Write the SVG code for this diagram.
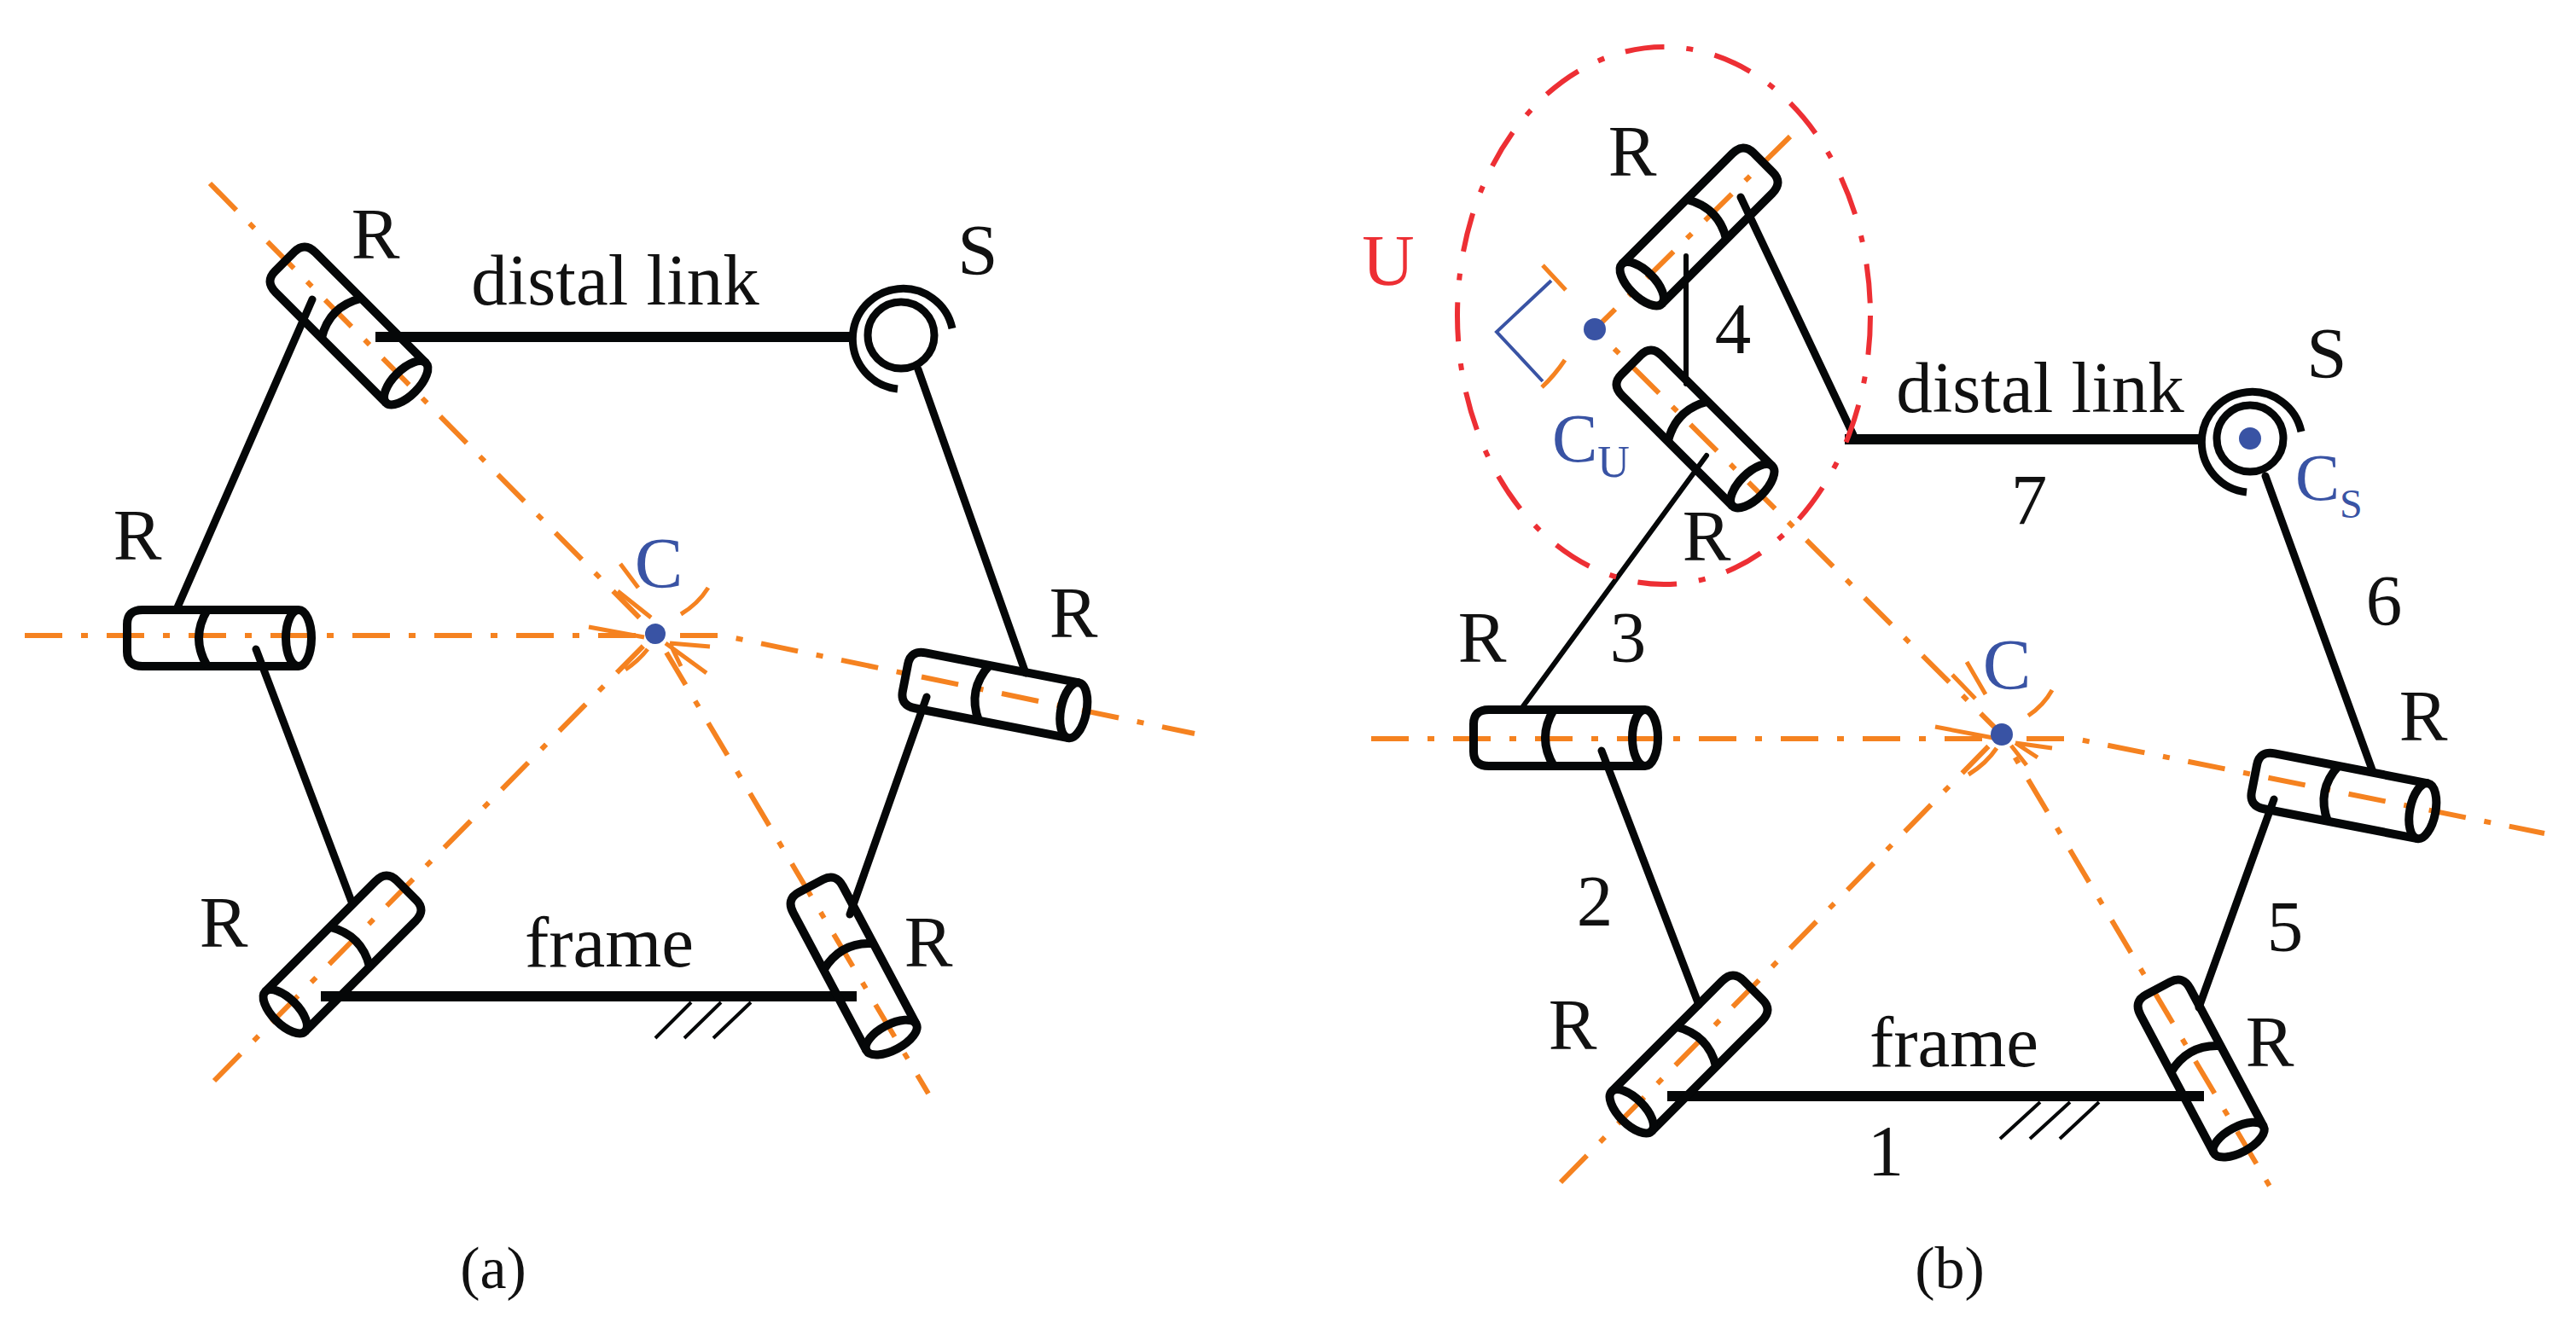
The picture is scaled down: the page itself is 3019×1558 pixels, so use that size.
<svg xmlns="http://www.w3.org/2000/svg" width="3019" height="1558" viewBox="0 0 3019 1558">
<style>
text{font-family:"Liberation Serif","Times New Roman",serif;font-size:85px;fill:#111;text-anchor:middle}
.blue{fill:#3953A4}
.red{fill:#ED2F34}
.axis{fill:none;stroke:#F58220;stroke-width:6;stroke-dasharray:44 22 8 22}
.tick{fill:none;stroke:#F58220;stroke-width:5}
.cyl{fill:none;stroke:#050708;stroke-width:10;stroke-linejoin:round}
.link{fill:none;stroke:#050708;stroke-width:9;stroke-linecap:round}
.thick{stroke-width:12;stroke-linecap:butt}
.thin{stroke-width:6}
.hatch{stroke-width:4;stroke-linecap:butt}
.bracket{fill:none;stroke:#3953A4;stroke-width:4}
.env{fill:none;stroke:#ED2F34;stroke-width:6;stroke-dasharray:46 26 8 26}
.dot{fill:#3953A4}
.socket{fill:none;stroke:#050708;stroke-width:9}
</style>
<defs>
<g id="cyl" class="cyl">
<path d="M93,-33 L-90,-33 Q-108,-33 -108,-16 L-108,16 Q-108,33 -90,33 L93,33"/>
<ellipse cx="93" cy="0" rx="15" ry="33"/>
<path d="M-14,-33 Q-34,0 -14,33"/>
</g>
</defs>
<g id="axes">
<path class="axis" d="M29,745 H847 L1400,860"/>
<path class="axis" d="M246,215 L768,743 L1088,1282"/>
<path class="axis" d="M251,1267 L768,743"/>
<path class="axis" d="M1607,866 H2432 L2982,977"/>
<path class="axis" d="M2098,160 L1869,386 L2345,860 L2665,1399"/>
<path class="axis" d="M1829,1386 L2345,860"/>
</g>
<g id="ticks">
<path class="tick" d="M727,661 L748,689 M724,693 L763,724 M830,689 Q818,708 798,720 M690,735 L755,747 M733,785 Q748,775 759,761 M780,754 L828,789 M785,754 L798,781 M785,754 L832,758"/>
<path class="tick" d="M2288,791 L2315,819 M2305,776 L2327,814 M2405,809 Q2395,827 2377,839 M2268,852 L2336,865 M2340,877 Q2328,895 2307,908 M2362,871 L2388,888 M2357,874 L2375,897 M2362,871 L2405,877"/>
<path class="tick" d="M1808,311 L1835,340 M1834,422 Q1822,440 1807,454"/>
</g>
<g id="connectors">
<path class="link thick" d="M440,395 H1000"/>
<path class="link" d="M1076,433 L1202,789"/>
<path class="link" d="M366,351 L208,712"/>
<path class="link" d="M300,761 L412,1057"/>
<path class="link" d="M1086,817 L996,1072"/>
<path class="link thick" d="M376,1168 H1004"/>
<path class="link hatch" d="M810,1175 L768,1217 M845,1175 L802,1217 M880,1175 L836,1217"/>
<path class="link thick" d="M2162,515 H2580"/>
<path class="link" d="M2040,231 L2172,510"/>
<path class="link thin" d="M1976,300 V450"/>
<path class="link thin" d="M2000,534 L1785,828"/>
<path class="link" d="M1877,880 L1991,1178"/>
<path class="link" d="M2665,937 L2577,1181"/>
<path class="link" d="M2655,558 L2781,905"/>
<path class="link thick" d="M1954,1285 H2583"/>
<path class="link hatch" d="M2391,1292 L2344,1335 M2426,1292 L2379,1335 M2460,1292 L2414,1335"/>
</g>
<g id="joint-a-r1"><use href="#cyl" transform="translate(410,383) rotate(45)"/><text x="440" y="303">R</text></g>
<g id="joint-a-r2"><use href="#cyl" transform="translate(257,748)"/><text x="161" y="656">R</text></g>
<g id="joint-a-r3"><use href="#cyl" transform="translate(400,1120) rotate(135)"/><text x="262" y="1110">R</text></g>
<g id="joint-a-r4"><use href="#cyl" transform="translate(1001,1134) rotate(62)"/><text x="1088" y="1133">R</text></g>
<g id="joint-a-r5"><use href="#cyl" transform="translate(1167,815) rotate(11)"/><text x="1258" y="747">R</text></g>
<g id="joint-a-s"><circle class="socket" cx="1056" cy="393" r="39"/><path class="socket" d="M1116,385 A59,59 0 1 0 1052,456"/><text x="1146" y="322">S</text></g>
<g id="center-a"><circle class="dot" cx="768" cy="743" r="12"/><text class="blue" x="772" y="689">C</text></g>
<g id="label-a-distal"><text x="721" y="357">distal link</text></g>
<g id="label-a-frame"><text x="714" y="1133">frame</text></g>
<g id="caption-a"><text x="578" y="1510" style="font-size:70px">(a)</text></g>

<g id="envelope-u"><ellipse class="env" cx="1950" cy="370" rx="242" ry="315"/><text class="red" x="1627" y="334">U</text></g>
<g id="joint-b-u1"><use href="#cyl" transform="translate(1990,267) rotate(135)"/><text x="1913" y="206">R</text></g>
<g id="joint-b-u2"><use href="#cyl" transform="translate(1988,504) rotate(45)"/><text x="2000" y="657">R</text></g>
<g id="center-u"><circle class="dot" cx="1869" cy="386" r="13"/><path class="bracket" d="M1818,329 L1754,389 L1808,447"/><text class="blue" x="1819" y="541" style="text-anchor:start;font-size:80px">C<tspan dy="18" style="font-size:52px">U</tspan></text></g>
<g id="joint-b-r2"><use href="#cyl" transform="translate(1835,865)"/><text x="1737" y="776">R</text></g>
<g id="joint-b-r3"><use href="#cyl" transform="translate(1978,1237) rotate(135)"/><text x="1843" y="1230">R</text></g>
<g id="joint-b-r4"><use href="#cyl" transform="translate(2580,1254) rotate(62)"/><text x="2660" y="1250">R</text></g>
<g id="joint-b-r5"><use href="#cyl" transform="translate(2748,933) rotate(11)"/><text x="2840" y="868">R</text></g>
<g id="joint-b-s"><circle class="socket" cx="2637" cy="514" r="39"/><path class="socket" d="M2697,506 A59,59 0 1 0 2633,577"/><circle class="dot" cx="2637" cy="514" r="13"/><text x="2727" y="443">S</text><text class="blue" x="2690" y="586" style="text-anchor:start;font-size:78px">C<tspan dy="21" style="font-size:48px">S</tspan></text></g>
<g id="center-b"><circle class="dot" cx="2346" cy="861" r="13"/><text class="blue" x="2352" y="808">C</text></g>
<g id="labels-b">
<text x="2391" y="483">distal link</text>
<text x="2290" y="1250">frame</text>
<text x="2210" y="1378">1</text>
<text x="1869" y="1085">2</text>
<text x="1908" y="776">3</text>
<text x="2031" y="414">4</text>
<text x="2678" y="1115">5</text>
<text x="2794" y="733">6</text>
<text x="2378" y="615">7</text>
</g>
<g id="caption-b"><text x="2285" y="1510" style="font-size:70px">(b)</text></g>
</svg>
